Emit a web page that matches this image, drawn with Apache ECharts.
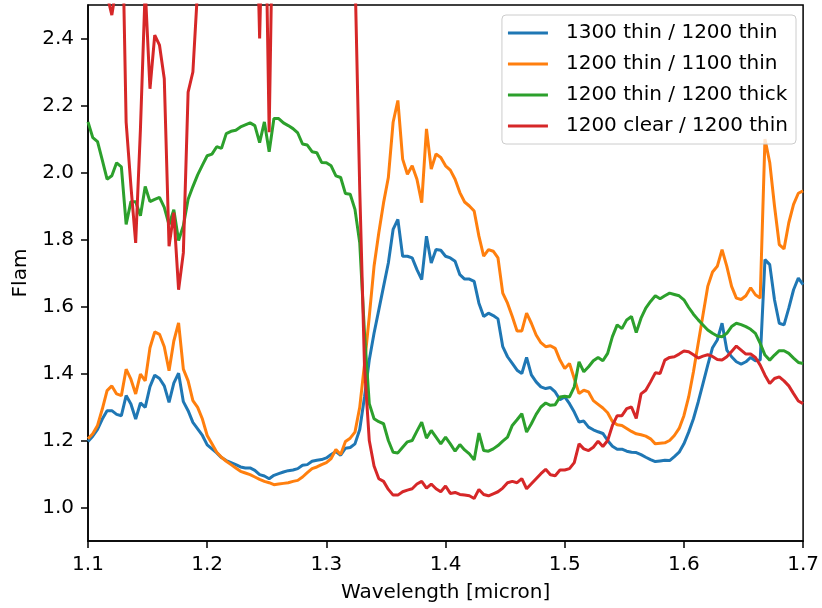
<!DOCTYPE html>
<html>
<head>
<meta charset="utf-8">
<script src="https://cdn.jsdelivr.net/npm/echarts@6/dist/echarts.min.js"></script>
<style>
  html, body { margin: 0; padding: 0; background: #fff; }
  #chart { width: 822px; height: 608px; }
</style>
</head>
<body>
<div id="chart"></div>
<script>
// wavelength grid, micron (1.100 .. 1.700, 151 samples)
const wlStart = 1.1
const wlStep = 0.004
const wavelength = []
for (let i = 0; i <= 150; i++) {
  wavelength.push(+(wlStart + wlStep * i).toFixed(3))
}

const xTicks = [1.1, 1.2, 1.3, 1.4, 1.5, 1.6, 1.7]
const yTicks = [1.0, 1.2, 1.4, 1.6, 1.8, 2.0, 2.2, 2.4]

const seriesNames = ['1300 thin / 1200 thin', '1200 thin / 1100 thin', '1200 thin / 1200 thick', '1200 clear / 1200 thin']
const seriesColors = ['#1f77b4', '#ff7f0e', '#2ca02c', '#d62728']

const thin1300 = [
  1.197, 1.213, 1.233, 1.264, 1.289, 1.289, 1.278, 1.274, 1.334, 1.309,
  1.264, 1.312, 1.299, 1.361, 1.395, 1.385, 1.363, 1.314, 1.371, 1.401,
  1.316, 1.289, 1.254, 1.235, 1.215, 1.187, 1.175, 1.163, 1.149, 1.140,
  1.134, 1.128, 1.121, 1.118, 1.118, 1.111, 1.098, 1.094, 1.086, 1.096,
  1.101, 1.106, 1.110, 1.112, 1.116, 1.126, 1.128, 1.138, 1.141, 1.143,
  1.148, 1.158, 1.167, 1.156, 1.177, 1.179, 1.190, 1.233, 1.330, 1.440,
  1.520, 1.590, 1.660, 1.730, 1.830, 1.860, 1.750, 1.750, 1.745, 1.710,
  1.680, 1.810, 1.730, 1.770, 1.768, 1.750, 1.745, 1.735, 1.695, 1.682,
  1.682, 1.675, 1.610, 1.570, 1.580, 1.573, 1.563, 1.480, 1.450, 1.430,
  1.410, 1.400, 1.448, 1.396, 1.375, 1.360, 1.355, 1.358, 1.345, 1.322,
  1.330, 1.310, 1.285, 1.255, 1.258, 1.240, 1.232, 1.226, 1.221, 1.200,
  1.183, 1.174, 1.174, 1.168, 1.165, 1.164, 1.158, 1.150, 1.143, 1.137,
  1.139, 1.141, 1.140, 1.152, 1.165, 1.190, 1.225, 1.265, 1.315, 1.370,
  1.425, 1.477, 1.500, 1.550, 1.470, 1.450, 1.435, 1.428, 1.435, 1.448,
  1.438, 1.440, 1.740, 1.725, 1.620, 1.550, 1.545, 1.595, 1.650, 1.685,
  1.665
]

const thin1100 = [
  1.205, 1.220, 1.245, 1.294, 1.349, 1.363, 1.339, 1.334, 1.413, 1.383,
  1.339, 1.398, 1.378, 1.477, 1.524, 1.517, 1.480, 1.408, 1.497, 1.551,
  1.413, 1.378, 1.319, 1.299, 1.264, 1.215, 1.190, 1.165, 1.150, 1.138,
  1.128, 1.118, 1.108, 1.103, 1.098, 1.091, 1.084, 1.078, 1.074, 1.068,
  1.070, 1.072, 1.074, 1.078, 1.081, 1.091, 1.104, 1.116, 1.121, 1.128,
  1.134, 1.146, 1.173, 1.158, 1.197, 1.207, 1.225, 1.299, 1.428, 1.570,
  1.720, 1.820, 1.910, 1.985, 2.150, 2.215, 2.040, 1.995, 2.020, 1.980,
  1.910, 2.130, 2.010, 2.055, 2.045, 2.020, 2.007, 1.980, 1.940, 1.912,
  1.900, 1.885, 1.810, 1.750, 1.770, 1.765, 1.745, 1.640, 1.610, 1.570,
  1.527, 1.527, 1.580, 1.550, 1.515, 1.492, 1.480, 1.483, 1.475, 1.440,
  1.415, 1.430, 1.385, 1.340, 1.350, 1.345, 1.319, 1.308, 1.297, 1.283,
  1.257, 1.247, 1.245, 1.236, 1.227, 1.220, 1.217, 1.213, 1.205, 1.190,
  1.192, 1.193, 1.200, 1.215, 1.236, 1.274, 1.330, 1.405, 1.490, 1.575,
  1.660, 1.703, 1.720, 1.770, 1.720, 1.660, 1.625, 1.621, 1.632, 1.656,
  1.635, 1.625, 2.100, 2.030, 1.900, 1.785, 1.772, 1.850, 1.905, 1.938,
  1.945
]

const thick1200 = [
  2.151, 2.104, 2.092, 2.037, 1.980, 1.990, 2.029, 2.017, 1.845, 1.913,
  1.913, 1.871, 1.958, 1.913, 1.920, 1.926, 1.896, 1.844, 1.889, 1.797,
  1.841, 1.920, 1.958, 1.993, 2.022, 2.050, 2.055, 2.077, 2.072, 2.116,
  2.123, 2.126, 2.136, 2.142, 2.148, 2.140, 2.089, 2.151, 2.062, 2.161,
  2.161, 2.148, 2.140, 2.131, 2.118, 2.085, 2.082, 2.062, 2.059, 2.030,
  2.029, 2.020, 1.990, 1.985, 1.937, 1.935, 1.890, 1.790, 1.520, 1.310,
  1.265, 1.256, 1.250, 1.200, 1.165, 1.163, 1.180, 1.196, 1.200, 1.228,
  1.255, 1.207, 1.230, 1.210, 1.190, 1.210, 1.190, 1.168, 1.188, 1.172,
  1.160, 1.142, 1.222, 1.170, 1.168, 1.175, 1.185, 1.198, 1.210, 1.245,
  1.262, 1.280, 1.225, 1.250, 1.278, 1.300, 1.312, 1.305, 1.307, 1.330,
  1.332, 1.330, 1.360, 1.435, 1.405, 1.420, 1.438, 1.448, 1.438, 1.460,
  1.510, 1.545, 1.534, 1.560, 1.570, 1.522, 1.565, 1.595, 1.615, 1.632,
  1.623, 1.632, 1.640, 1.636, 1.632, 1.620, 1.597, 1.577, 1.560, 1.545,
  1.530, 1.520, 1.512, 1.510, 1.520, 1.540, 1.550, 1.546, 1.540, 1.532,
  1.520, 1.490, 1.455, 1.440, 1.455, 1.468, 1.468, 1.460, 1.446, 1.433,
  1.430
]

// values above 2.5 run off the top of the axes
const clear1200 = [
  2.75, 2.80, 2.70, 2.65, 2.53, 2.47, 2.56, 2.90, 2.15, 1.96,
  1.79, 2.13, 2.55, 2.25, 2.41, 2.38, 2.28, 1.78, 1.88, 1.65,
  1.76, 2.24, 2.30, 2.55, 2.90, 3.10, 3.20, 3.30, 3.20, 3.10,
  3.20, 3.30, 3.20, 3.10, 3.00, 3.00, 2.40, 3.00, 2.12, 3.00,
  3.10, 3.20, 3.30, 3.30, 3.40, 3.50, 3.50, 3.40, 3.50, 3.60,
  3.60, 3.50, 3.50, 3.40, 3.40, 3.20, 2.60, 1.95, 1.42, 1.20,
  1.124, 1.086, 1.078, 1.054, 1.037, 1.037, 1.047, 1.052, 1.056, 1.070,
  1.078, 1.058, 1.070, 1.056, 1.047, 1.064, 1.042, 1.045, 1.039, 1.037,
  1.035, 1.027, 1.054, 1.039, 1.035, 1.041, 1.047, 1.058, 1.074, 1.078,
  1.074, 1.086, 1.056, 1.071, 1.086, 1.101, 1.114, 1.098, 1.095, 1.112,
  1.112, 1.116, 1.134, 1.190, 1.175, 1.170, 1.180, 1.198, 1.182, 1.200,
  1.245, 1.274, 1.274, 1.295, 1.300, 1.266, 1.339, 1.350, 1.375, 1.402,
  1.400, 1.440, 1.448, 1.450, 1.458, 1.467, 1.465, 1.456, 1.446, 1.452,
  1.456, 1.451, 1.442, 1.440, 1.450, 1.466, 1.482, 1.470, 1.458, 1.458,
  1.448, 1.425, 1.395, 1.370, 1.385, 1.390, 1.378, 1.363, 1.340, 1.318,
  1.310
]

const allSeries = [thin1300, thin1100, thick1200, clear1200]

const font = 'DejaVu Sans'

const chart = echarts.init(document.getElementById('chart'), null, {renderer: 'canvas'})

const option = {
  animation: false,
  backgroundColor: '#ffffff',
  grid: {
    left: 88,
    right: 14,
    top: 5,
    bottom: 65,
    show: true,
    borderColor: '#000',
    borderWidth: 1.5,
    backgroundColor: 'transparent'
  },
  legend: {
    orient: 'vertical',
    right: 26,
    top: 15,
    icon: 'rect',
    itemWidth: 40,
    itemHeight: 3,
    itemGap: 11,
    padding: [8, 8, 8, 6],
    backgroundColor: 'rgba(255,255,255,0.8)',
    borderColor: '#cccccc',
    borderWidth: 1,
    borderRadius: 4,
    data: seriesNames,
    textStyle: {
      fontFamily: font,
      fontSize: 20,
      lineHeight: 20,
      color: '#000',
      padding: [0, 0, 0, 13]
    }
  },
  xAxis: {
    type: 'value',
    min: 1.1,
    max: 1.7,
    name: 'Wavelength [micron]',
    nameLocation: 'middle',
    nameGap: 42,
    nameTextStyle: {fontFamily: font, fontSize: 20, color: '#000'},
    axisLine: {show: true, lineStyle: {color: '#000', width: 1.5}},
    axisTick: {show: true, length: 7, customValues: xTicks, lineStyle: {color: '#000', width: 1.5}},
    axisLabel: {
      customValues: xTicks,
      margin: 14,
      fontFamily: font,
      fontSize: 20,
      color: '#000',
      formatter: (v) => v.toFixed(1)
    },
    splitLine: {show: false}
  },
  yAxis: {
    type: 'value',
    min: 0.9,
    max: 2.5,
    name: 'Flam',
    nameLocation: 'middle',
    nameGap: 56,
    nameRotate: 90,
    nameTextStyle: {fontFamily: font, fontSize: 20, color: '#000'},
    axisLine: {show: true, lineStyle: {color: '#000', width: 1.5}},
    axisTick: {show: true, length: 7, customValues: yTicks, lineStyle: {color: '#000', width: 1.5}},
    axisLabel: {
      customValues: yTicks,
      margin: 14,
      fontFamily: font,
      fontSize: 20,
      color: '#000',
      formatter: (v) => v.toFixed(1)
    },
    splitLine: {show: false}
  },
  series: allSeries.map((vals, s) => {
    return {
      name: seriesNames[s],
      type: 'line',
      showSymbol: false,
      symbol: 'none',
      clip: true,
      color: seriesColors[s],
      lineStyle: {width: 3, color: seriesColors[s]},
      data: wavelength.map((w, i) => [w, vals[i]])
    }
  })
}

chart.setOption(option)
</script>
</body>
</html>
